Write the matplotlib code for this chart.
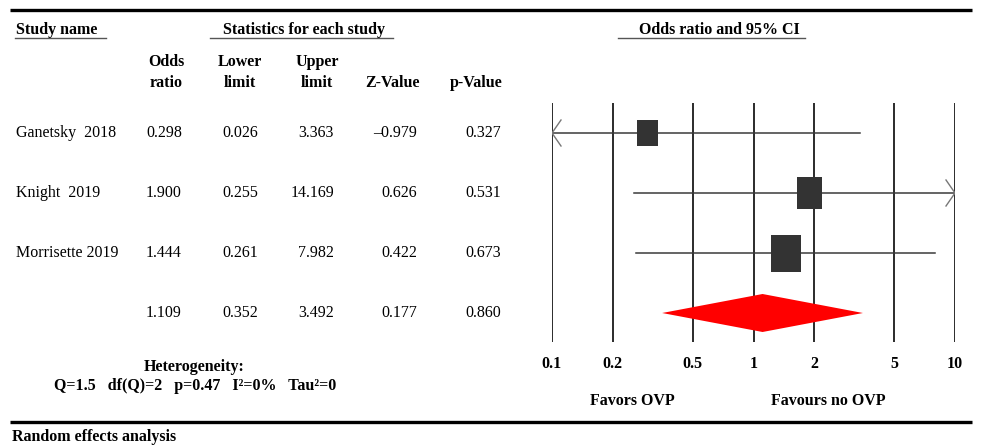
import numpy as np
import matplotlib
matplotlib.use("Agg")
import matplotlib.pyplot as plt
from matplotlib.patches import Rectangle, Polygon

plt.rcParams.update({
    "font.family": ["Liberation Serif", "DejaVu Serif"],
    "font.size": 11.5,
})

# ---- data ----
STUDIES = ["Ganetsky  2018", "Knight  2019", "Morrisette 2019"]
ODDS = [0.298, 1.900, 1.444]
LOWER = [0.026, 0.255, 0.261]
UPPER = [3.363, 14.169, 7.982]
ZVAL = [-0.979, 0.626, 0.422]
PVAL = [0.327, 0.531, 0.673]

POOLED_OR = 1.109
POOLED_LO = 0.352
POOLED_HI = 3.492
POOLED_Z = 0.177
POOLED_P = 0.860

TICKS = [0.1, 0.2, 0.5, 1, 2, 5, 10]
TICK_LABELS = ["0.1", "0.2", "0.5", "1", "2", "5", "10"]
HETERO = "Q=1.5   df(Q)=2   p=0.47   I\u00b2=0%   Tau\u00b2=0"

W, H = 981, 447
ROW_Y = [133, 193, 253, 313]          # pixel rows of the table
PX_PER_DEC = (955 - 552) / 2.0        # forest axis scale


def fmt(v):
    s = f"{abs(v):.3f}"
    return ("\u2013" + s) if v < 0 else s


fig = plt.figure(figsize=(W / 100, H / 100), dpi=100)

# overlay in pixel coordinates for table text and rules
ov = fig.add_axes([0, 0, 1, 1])
ov.set_xlim(0, W)
ov.set_ylim(H, 0)
ov.axis("off")

ov.plot([10, 972], [10, 10], color="black", lw=2.4, solid_capstyle="butt")
ov.plot([10, 972], [422, 422], color="black", lw=2.4, solid_capstyle="butt")

# section headers with underlines
ov.text(16, 30, "Study name", fontweight="bold", va="center", ha="left")
ov.plot([15, 106], [37.5, 37.5], color="#555555", lw=1.0)
ov.text(304, 30, "Statistics for each study", fontweight="bold",
        va="center", ha="center")
ov.plot([210, 393], [37.5, 37.5], color="#555555", lw=1.0)
ov.text(719, 30, "Odds ratio and 95% CI", fontweight="bold",
        va="center", ha="center")
ov.plot([618, 805], [37.5, 37.5], color="#555555", lw=1.0)

# column headers
for x, top, bot in [(166, "Odds", "ratio"), (240, "Lower", "limit"),
                    (317, "Upper", "limit"), (393, None, "Z-Value"),
                    (476, None, "p-Value")]:
    if top:
        ov.text(x, 62, top, fontweight="bold", ha="center", va="center")
    ov.text(x, 83, bot, fontweight="bold", ha="center", va="center")

# study rows
cols_r = [182, 258, 334, 417, 501]
for i, name in enumerate(STUDIES):
    y = ROW_Y[i]
    ov.text(16, y, name, ha="left", va="center")
    for xr, v in zip(cols_r, [ODDS[i], LOWER[i], UPPER[i], ZVAL[i], PVAL[i]]):
        ov.text(xr, y, fmt(v), ha="right", va="center")

y = ROW_Y[3]
for xr, v in zip(cols_r, [POOLED_OR, POOLED_LO, POOLED_HI, POOLED_Z, POOLED_P]):
    ov.text(xr, y, fmt(v), ha="right", va="center")

ov.text(194, 367, "Heterogeneity:", fontweight="bold", ha="center", va="center")
ov.text(195, 386, HETERO, fontweight="bold", ha="center", va="center")

ov.text(720 - 88, 401, "Favors OVP", fontweight="bold", ha="center", va="center")
ov.text(828, 401, "Favours no OVP", fontweight="bold", ha="center", va="center")
ov.text(12, 437, "Random effects analysis", fontweight="bold",
        ha="left", va="center")

# ---- forest plot ----
top_px, bot_px = 103, 342
row0 = ROW_Y[0]
step = ROW_Y[1] - ROW_Y[0]
ax = fig.add_axes([552 / W, 1 - bot_px / H, (955 - 552) / W, (bot_px - top_px) / H])
ax.set_xscale("log")
ax.set_xlim(0.1, 10)
ax.set_ylim((bot_px - row0) / step, (top_px - row0) / step)
for s in ax.spines.values():
    s.set_visible(False)
ax.set_yticks([])
ax.set_xticks(TICKS)
ax.set_xticklabels(TICK_LABELS, fontweight="bold")
ax.minorticks_off()
ax.tick_params(axis="x", length=0, pad=10)
ax.patch.set_alpha(0)

for t in TICKS:
    ax.axvline(t, color="#1a1a1a", lw=1.3, zorder=1)

# box size from inverse-variance weight (sqrt scale)
se = [(np.log(u) - np.log(l)) / 3.92 for l, u in zip(LOWER, UPPER)]
wts = np.array([1 / s ** 2 for s in se])
rel = np.sqrt(wts / wts.max())
box_w_px = 30 * rel
box_h_px = 37 * rel

chev_dx = 9 / PX_PER_DEC
chev_dy = 13 / step
for i in range(len(STUDIES)):
    lo = max(LOWER[i], 0.1)
    hi = min(UPPER[i], 10)
    ax.plot([lo, hi], [i, i], color="#3a3a3a", lw=1.1, zorder=2)
    if LOWER[i] < 0.1:
        ax.plot([0.1 * 10 ** chev_dx, 0.1, 0.1 * 10 ** chev_dx],
                [i - chev_dy, i, i + chev_dy], color="#777777", lw=1.0, zorder=2)
    if UPPER[i] > 10:
        ax.plot([10 / 10 ** chev_dx, 10, 10 / 10 ** chev_dx],
                [i - chev_dy, i, i + chev_dy], color="#777777", lw=1.0, zorder=2)
    half = box_w_px[i] / 2 / PX_PER_DEC
    hh = box_h_px[i] / step
    ax.add_patch(Rectangle((ODDS[i] / 10 ** half, i - hh / 2),
                           ODDS[i] * 10 ** half - ODDS[i] / 10 ** half, hh,
                           facecolor="#333333", edgecolor="none", zorder=3))

dh = 19 / step
ax.add_patch(Polygon([(POOLED_LO, 3), (POOLED_OR, 3 - dh),
                      (POOLED_HI, 3), (POOLED_OR, 3 + dh)],
                     closed=True, facecolor="#ff0000", edgecolor="none", zorder=3))

fig.savefig("out.png", dpi=100)
